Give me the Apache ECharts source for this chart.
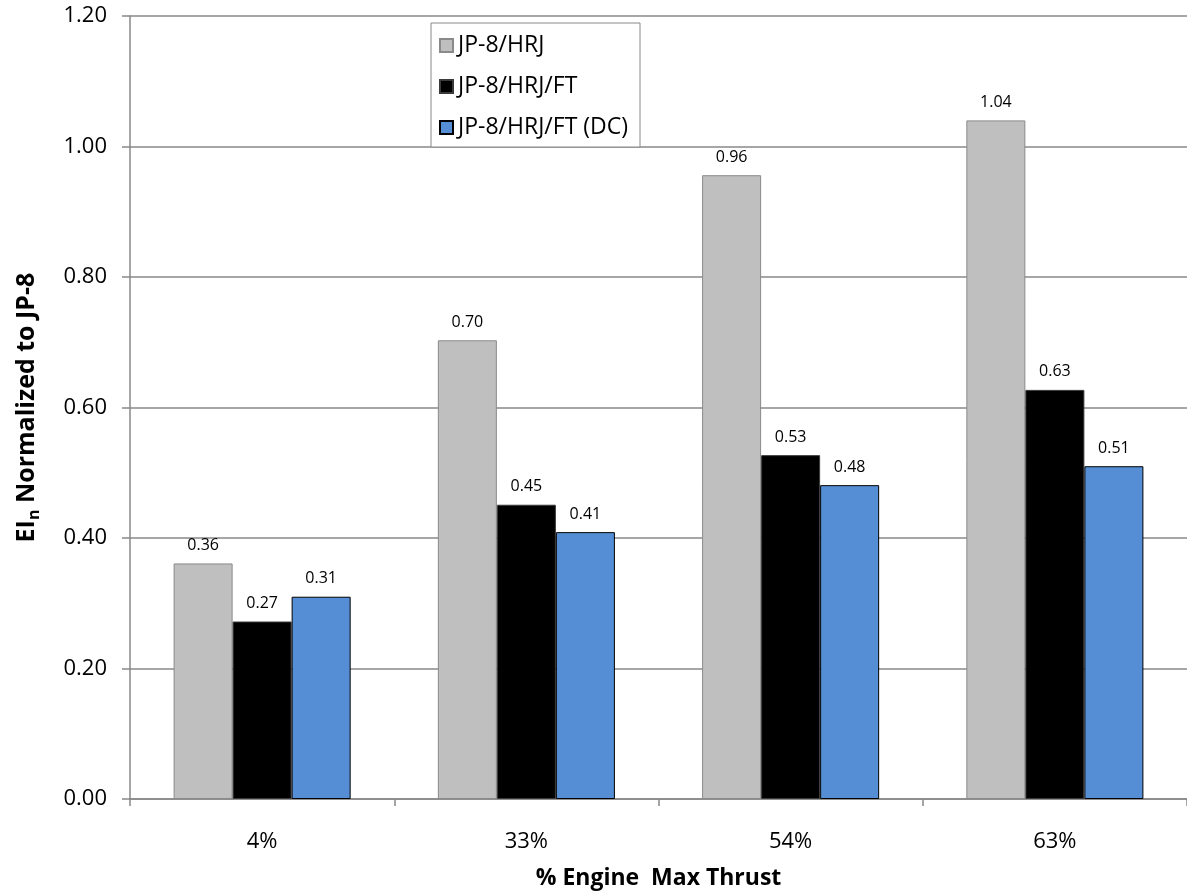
<!DOCTYPE html>
<html>
<head>
<meta charset="utf-8">
<script src="https://cdn.jsdelivr.net/npm/echarts@6/dist/echarts.min.js"></script>
<style>
html,body{margin:0;padding:0;background:#fff;}
#chart{width:1187px;height:895px;}
</style>
</head>
<body>
<div id="chart"></div>
<script>
const categories = ['4%', '33%', '54%', '63%'];
const seriesNames = ['JP-8/HRJ', 'JP-8/HRJ/FT', 'JP-8/HRJ/FT (DC)'];
const hrj = [0.361, 0.703, 0.956, 1.040];
const hrjFt = [0.272, 0.451, 0.527, 0.627];
const hrjFtDc = [0.310, 0.409, 0.481, 0.510];
const yTicks = { min: 0, max: 1.2, interval: 0.2 };

const FONT = 'Open Sans';
const chart = echarts.init(document.getElementById('chart'));

function barSeries(name, data, color, border) {
  return {
    name: name,
    type: 'bar',
    data: data,
    barGap: '0%',
    barCategoryGap: '33%',
    itemStyle: { color: color, borderColor: border, borderWidth: 1 },
    label: {
      show: true,
      position: 'top',
      distance: 10,
      color: '#000',
      fontFamily: FONT,
      fontSize: 16,
      formatter: p => p.value.toFixed(2)
    }
  };
}

chart.setOption({
  animation: false,
  backgroundColor: '#fff',
  textStyle: { fontFamily: FONT },
  grid: { left: 130, top: 16, right: -7, bottom: 89, containLabel: false },
  legend: {
    orient: 'vertical',
    left: 431,
    top: 23,
    data: seriesNames,
    icon: 'rect',
    itemWidth: 13,
    itemHeight: 13,
    itemGap: 18,
    padding: [11, 4, 8, 8],
    borderColor: '#888',
    borderWidth: 1,
    backgroundColor: '#fff',
    textStyle: { fontFamily: FONT, fontSize: 23, color: '#000', lineHeight: 22, width: 178 }
  },
  xAxis: {
    type: 'category',
    data: categories,
    name: '% Engine  Max Thrust',
    nameLocation: 'middle',
    nameGap: 68,
    nameTextStyle: { fontFamily: FONT, fontSize: 23, fontWeight: 'bold', color: '#000' },
    axisLine: { lineStyle: { color: '#888', width: 1.5 } },
    axisTick: { show: true, length: 7, lineStyle: { color: '#888', width: 1.5 } },
    axisLabel: { margin: 32, color: '#000', fontFamily: FONT, fontSize: 22 }
  },
  yAxis: {
    type: 'value',
    min: yTicks.min,
    max: yTicks.max,
    interval: yTicks.interval,
    name: '{b|EI}{s|n}{b| Normalized to JP-8}',
    nameLocation: 'middle',
    nameRotate: 90,
    nameGap: 88,
    nameTextStyle: {
      rich: {
        b: { fontFamily: FONT, fontSize: 25, fontWeight: 'bold', color: '#000', lineHeight: 30, verticalAlign: 'middle' },
        s: { fontFamily: FONT, fontSize: 16, fontWeight: 'bold', color: '#000', lineHeight: 30, verticalAlign: 'bottom' }
      }
    },
    axisLine: { show: true, lineStyle: { color: '#888', width: 1.5 } },
    axisTick: { show: true, length: 8, lineStyle: { color: '#888', width: 1.5 } },
    splitLine: { show: true, lineStyle: { color: '#888', width: 1.5 } },
    axisLabel: { margin: 23, color: '#000', fontFamily: FONT, fontSize: 22, formatter: v => v.toFixed(2) }
  },
  series: [
    barSeries(seriesNames[0], hrj, '#BFBFBF', '#8A8A8A'),
    barSeries(seriesNames[1], hrjFt, '#000000', '#3A3A3A'),
    barSeries(seriesNames[2], hrjFtDc, '#558ED5', '#000000')
  ]
});
</script>
</body>
</html>
